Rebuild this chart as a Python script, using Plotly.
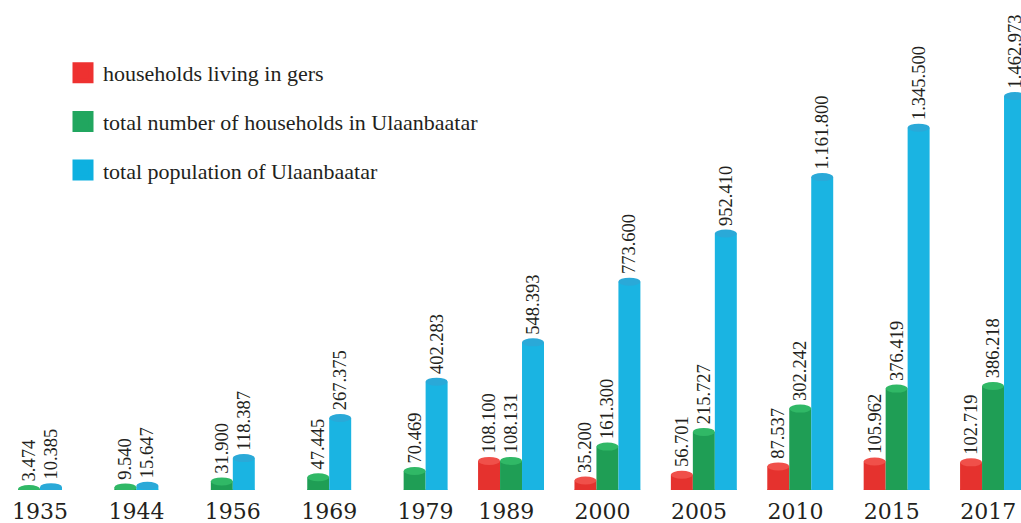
import plotly.graph_objects as go

years = ["1935", "1944", "1956", "1969", "1979", "1989", "2000", "2005", "2010", "2015", "2017"]
gers = [None, None, None, None, None, 108100, 35200, 56701, 87537, 105962, 102719]
households = [3474, 9540, 31900, 47445, 70469, 108131, 161300, 215727, 302242, 376419, 386218]
population = [10385, 15647, 118387, 267375, 402283, 548393, 773600, 952410, 1161800, 1345500, 1462973]

names = ["households living in gers",
         "total number of households in Ulaanbaatar",
         "total population of Ulaanbaatar"]
body_colors = ["#E5322E", "#1F9E55", "#1AB4E2"]
top_colors = ["#F0504A", "#30B866", "#2AA9D8"]
bot_colors = ["#C92925", "#188A49", "#1699C2"]
legend_colors = ["#EE3130", "#21A65F", "#0DB0E0"]

BW = 0.228
offsets = [-1.5 * BW, -0.5 * BW, 0.5 * BW]
series = [gers, households, population]

def fmt(v):
    # thousands separated by dots; a leading no-break space keeps the label off the bar top
    return "" if v is None else "\u00a0" + f"{v:,}".replace(",", ".")

xs = list(range(len(years)))
fig = go.Figure()
shapes = []
for k, (vals, name) in enumerate(zip(series, names)):
    fig.add_trace(go.Bar(
        x=xs, y=vals, name=name, width=BW, offset=offsets[k],
        marker=dict(color=body_colors[k], line=dict(width=0)),
        text=[fmt(v) for v in vals], textposition="outside", textangle=-90,
        textfont=dict(family="Liberation Serif", size=18.5, color="#231F20"),
        constraintext="none", cliponaxis=False,
        legendgroup=f"g{k}", showlegend=False,
    ))
    for i, v in zip(xs, vals):
        if v is None:
            continue
        x0 = i + offsets[k]
        x1 = x0 + BW
        shapes.append(dict(type="circle", xref="x", yref="y", ysizemode="pixel",
                           yanchor=0, y0=-3.5, y1=3.5, x0=x0, x1=x1,
                           fillcolor=bot_colors[k], line=dict(width=0), layer="below"))
        shapes.append(dict(type="circle", xref="x", yref="y", ysizemode="pixel",
                           yanchor=v, y0=-4, y1=4, x0=x0, x1=x1,
                           fillcolor=top_colors[k], line=dict(width=0), layer="above"))

# legend entries
for k, name in enumerate(names):
    fig.add_trace(go.Scatter(
        x=[None], y=[None], mode="markers", name=name,
        marker=dict(symbol="square", size=16, color=legend_colors[k],
                    line=dict(width=5, color=legend_colors[k])),
        legendgroup=f"g{k}", showlegend=True,
    ))

tickvals = [i + (0.5 * BW if g is None else -0.05) for i, g in zip(xs, gers)]

fig.update_layout(
    width=1021, height=523,
    margin=dict(l=0, r=0, t=0, b=33),
    paper_bgcolor="white", plot_bgcolor="white",
    barmode="overlay",
    shapes=shapes,
    showlegend=True,
    legend=dict(x=63 / 1021, y=1 - 52 / 490, xanchor="left", yanchor="top",
                font=dict(family="Liberation Serif", size=22, color="#231F20"),
                tracegroupgap=17, itemsizing="trace", bgcolor="rgba(0,0,0,0)"),
    xaxis=dict(range=[-0.301, 10.29], tickvals=tickvals, ticktext=years,
               showgrid=False, zeroline=False, showline=False, ticks="",
               ticklabelstandoff=6,
               tickfont=dict(family="DejaVu Serif", size=22, color="#231F20")),
    yaxis=dict(range=[0, 1462973 * 490 / 394], visible=False, showgrid=False),
)

fig.write_html("out.html", config={"displayModeBar": False},
               post_script="document.body.style.margin='0px';document.body.style.overflow='hidden';")
